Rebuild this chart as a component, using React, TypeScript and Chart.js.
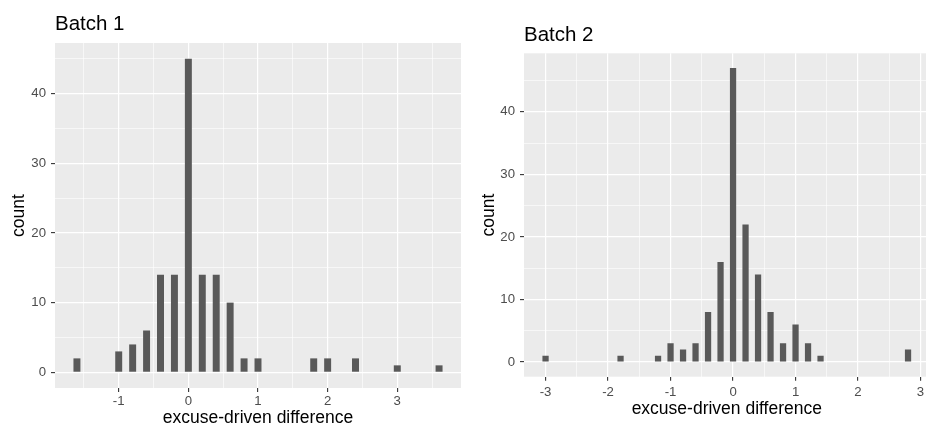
import React, { useEffect, useRef } from "react";
import { Chart, registerables } from "chart.js";

Chart.register(...registerables);

const FONT = '"Liberation Sans", Arial, Helvetica, sans-serif';

// ---- data ----
const batch1X = [-1.6, -1.0, -0.8, -0.6, -0.4, -0.2, 0, 0.2, 0.4, 0.6, 0.8, 1.0, 1.8, 2.0, 2.4, 3.0, 3.6];
const batch1Count = [2, 3, 4, 6, 14, 14, 45, 14, 14, 10, 2, 2, 2, 2, 2, 1, 1];

const batch2X = [-3.0, -1.8, -1.2, -1.0, -0.8, -0.6, -0.4, -0.2, 0, 0.2, 0.4, 0.6, 0.8, 1.0, 1.2, 1.4, 2.8];
const batch2Count = [1, 1, 1, 3, 2, 3, 8, 16, 47, 22, 14, 8, 3, 6, 3, 1, 2];

const xMajorTicks1 = [-1, 0, 1, 2, 3];
const xMinorTicks1 = [-1.5, -0.5, 0.5, 1.5, 2.5, 3.5];
const xMajorTicks2 = [-3, -2, -1, 0, 1, 2, 3];
const xMinorTicks2 = [-2.5, -1.5, -0.5, 0.5, 1.5, 2.5];
const yMajorTicks = [0, 10, 20, 30, 40];
const yMinorTicks = [5, 15, 25, 35, 45];

const panelTitles = ["Batch 1", "Batch 2"];
const xAxisTitle = "excuse-driven difference";
const yAxisTitle = "count";
const BIN_WIDTH = 0.2;

// ---- layout (positions/sizes only) ----
const TITLE_SIZE = 20.5;
const AXIS_TITLE_SIZE = 17.5;
const TICK_SIZE = 13.2;

const panels = [
  {
    title: panelTitles[0], xs: batch1X, ys: batch1Count, xMajor: xMajorTicks1, xMinor: xMinorTicks1,
    left: 0, clipW: 463, canvasW: 463, canvasH: 429,
    chartLeft: 55, chartTop: 43, chartRight: 461, chartBottom: 388,
    titleBaseline: 29.5, xTickPad: 1.8, xTitlePadBottom: 0.3, yTitlePad: 8.4,
  },
  {
    title: panelTitles[1], xs: batch2X, ys: batch2Count, xMajor: xMajorTicks2, xMinor: xMinorTicks2,
    left: 463, clipW: 463, canvasW: 470, canvasH: 429,
    chartLeft: 61, chartTop: 53.3, chartRight: 466.6, chartBottom: 376.7,
    titleBaseline: 40.7, xTickPad: 3.4, xTitlePadBottom: 9.6, yTitlePad: 15.4,
  },
];

function Panel({ p }: { p: any }) {
  const ref = useRef<HTMLCanvasElement | null>(null);
  useEffect(() => {
    if (!ref.current) return;
    const xLo = Math.min(...p.xs) - BIN_WIDTH / 4;
    const xHi = Math.max(...p.xs) + BIN_WIDTH / 4;
    const xPad = 0.05 * (xHi - xLo);
    const yHi = Math.max(...p.ys);
    const yPad = 0.05 * yHi;
    const xMajorSet = new Set(p.xMajor);
    const yMajorSet = new Set(yMajorTicks);
    const xTickVals = [...p.xMajor, ...p.xMinor].sort((a: number, b: number) => a - b);
    const yTickVals = [...yMajorTicks, ...yMinorTicks].filter((v) => v <= yHi + yPad).sort((a, b) => a - b);

    const bgPlugin = {
      id: "panelBg",
      beforeDraw(chart: any) {
        const { ctx, chartArea: a } = chart;
        ctx.save();
        ctx.fillStyle = "#EBEBEB";
        ctx.fillRect(a.left, a.top, a.right - a.left, a.bottom - a.top);
        ctx.restore();
      },
    };
    const titlePlugin = {
      id: "panelTitle",
      afterDraw(chart: any) {
        const { ctx, chartArea: a } = chart;
        ctx.save();
        ctx.font = `${TITLE_SIZE}px ${FONT}`;
        ctx.fillStyle = "#000000";
        ctx.textAlign = "left";
        ctx.textBaseline = "alphabetic";
        ctx.fillText(p.title, a.left, p.titleBaseline);
        ctx.restore();
      },
    };

    const gridWidth = (set: Set<number>) => (c: any) => (c.tick && set.has(c.tick.value) ? 1.2 : 0.6);
    const tickCol = (set: Set<number>) => (c: any) => (c.tick && set.has(c.tick.value) ? "#333333" : "rgba(0,0,0,0)");

    const chart = new Chart(ref.current, {
      type: "bar",
      data: {
        datasets: [
          {
            data: p.xs.map((x: number, i: number) => ({ x, y: p.ys[i] })),
            backgroundColor: "#595959",
            borderWidth: 0,
            categoryPercentage: 1,
            barPercentage: 0.5,
          },
        ],
      },
      options: {
        animation: false,
        responsive: false,
        devicePixelRatio: 1,
        events: [],
        layout: { padding: { top: p.chartTop, right: p.canvasW - p.chartRight, bottom: 0, left: 0 } },
        plugins: { legend: { display: false }, tooltip: { enabled: false }, title: { display: false } },
        scales: {
          x: {
            type: "linear",
            offset: false,
            min: xLo - xPad,
            max: xHi + xPad,
            afterBuildTicks: (s: any) => {
              s.ticks = xTickVals.map((v: number) => ({ value: v }));
            },
            afterFit: (s: any) => {
              s.height = p.canvasH - p.chartBottom;
            },
            border: { display: false },
            grid: {
              offset: false,
              color: "#FFFFFF",
              lineWidth: gridWidth(xMajorSet),
              tickColor: tickCol(xMajorSet),
              tickWidth: 1.1,
              tickLength: 4,
              drawTicks: true,
            },
            ticks: {
              autoSkip: false,
              maxRotation: 0,
              padding: p.xTickPad,
              color: "#4D4D4D",
              font: { family: FONT, size: TICK_SIZE },
              callback: (v: any) => (xMajorSet.has(v) ? String(v) : ""),
            },
            title: {
              display: true,
              text: xAxisTitle,
              color: "#000000",
              font: { family: FONT, size: AXIS_TITLE_SIZE, lineHeight: 1.2 },
              padding: { top: 0, bottom: p.xTitlePadBottom },
            },
          },
          y: {
            type: "linear",
            min: -yPad,
            max: yHi + yPad,
            afterBuildTicks: (s: any) => {
              s.ticks = yTickVals.map((v) => ({ value: v }));
            },
            afterFit: (s: any) => {
              s.width = p.chartLeft;
            },
            border: { display: false },
            grid: {
              color: "#FFFFFF",
              lineWidth: gridWidth(yMajorSet),
              tickColor: tickCol(yMajorSet),
              tickWidth: 1.1,
              tickLength: 4,
              drawTicks: true,
            },
            ticks: {
              autoSkip: false,
              padding: 5,
              color: "#4D4D4D",
              font: { family: FONT, size: TICK_SIZE },
              callback: (v: any) => (yMajorSet.has(v) ? String(v) : ""),
            },
            title: {
              display: true,
              text: yAxisTitle,
              color: "#000000",
              font: { family: FONT, size: AXIS_TITLE_SIZE, lineHeight: 1.2 },
              padding: { top: p.yTitlePad, bottom: 0 },
            },
          },
        },
      } as any,
      plugins: [bgPlugin, titlePlugin],
    });
    return () => chart.destroy();
  }, [p]);

  return (
    <div
      style={{
        position: "absolute",
        left: p.left,
        top: 0,
        width: p.clipW,
        height: p.canvasH,
        overflow: "hidden",
      }}
    >
      <canvas ref={ref} width={p.canvasW} height={p.canvasH} style={{ display: "block", width: p.canvasW, height: p.canvasH }} />
    </div>
  );
}

export default function App() {
  return (
    <div style={{ position: "absolute", left: 0, top: 0, width: 926, height: 429, background: "#FFFFFF", overflow: "hidden" }}>
      {panels.map((p, i) => (
        <Panel key={i} p={p} />
      ))}
    </div>
  );
}
